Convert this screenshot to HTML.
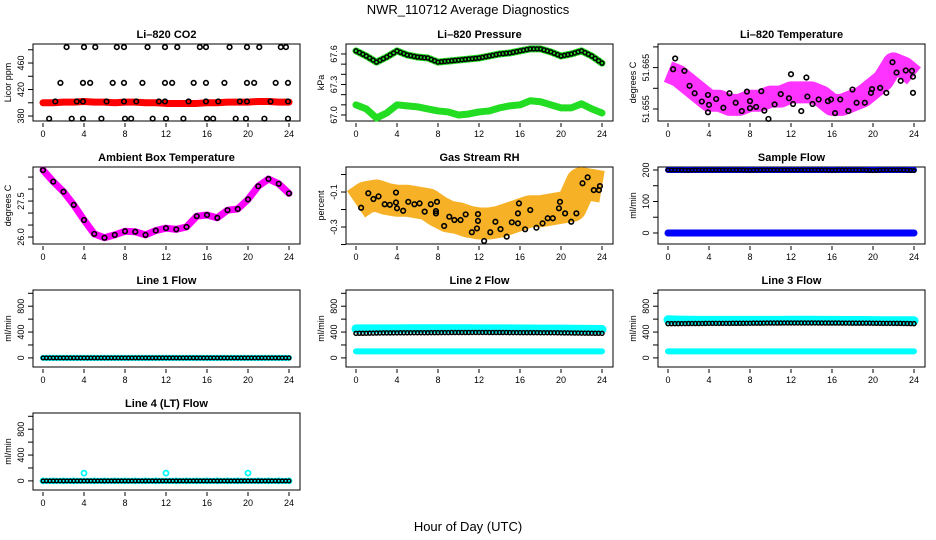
<!DOCTYPE html>
<html><head><meta charset="utf-8"><style>
body{margin:0;background:#fff}
svg{display:block;font-family:"Liberation Sans",sans-serif}
</style></head><body>
<svg id="c" width="936" height="540" viewBox="0 0 936 540" xmlns="http://www.w3.org/2000/svg">
<text x="468" y="14" text-anchor="middle" font-size="13">NWR_110712  Average Diagnostics</text>
<text x="468" y="531" text-anchor="middle" font-size="13">Hour of Day (UTC)</text>
</svg>
<script>
const hours=[0,1,2,3,4,5,6,7,8,9,10,11,12,13,14,15,16,17,18,19,20,21,22,23,24];
const xTicks=[0,4,8,12,16,20,24];
// CO2
const co2Red=[400,400,401,401,402,401,401,400,401,401,400,400,399,399,399,399,400,400,401,401,401,402,402,401,401];
const co2BlackHours=[2.3,4.0,5.1,7.2,7.9,10.2,11.9,13.1,15.3,15.9,18.2,19.9,21.1,23.2,23.7,1.7,3.9,4.6,6.8,7.9,9.7,11.9,12.6,14.7,15.9,17.7,19.9,20.6,22.7,23.9,1.2,3.3,3.9,6.2,7.9,9.1,11.3,11.9,14.2,15.9,17.1,19.2,19.9,22.2,23.9,0.6,2.8,3.9,5.7,8.0,8.6,10.7,12.0,13.7,16.0,16.6,18.8,19.8,21.6,23.9];
const co2BlackVals=[484,484,484,484,484,484,484,484,484,484,484,484,484,484,484,430,430,430,430,430,430,430,430,430,430,430,430,430,430,430,402,402,402,402,402,402,402,402,402,402,402,402,402,402,402,376,376,376,376,376,376,376,376,376,376,376,376,376,376,376];
// Pressure
const presUpper=[67.63,67.58,67.52,67.57,67.63,67.59,67.57,67.56,67.52,67.53,67.54,67.55,67.56,67.58,67.60,67.61,67.63,67.65,67.65,67.62,67.58,67.60,67.63,67.58,67.51];
const presLower=[67.10,67.06,66.97,67.02,67.10,67.09,67.08,67.06,67.04,67.03,67.00,67.01,67.03,67.04,67.07,67.09,67.10,67.14,67.13,67.10,67.07,67.07,67.11,67.06,67.02];
// Li-820 temperature
const tempCloud=[51.664,51.663,51.661,51.659,51.657,51.657,51.656,51.656,51.657,51.657,51.658,51.658,51.659,51.659,51.659,51.658,51.656,51.656,51.657,51.658,51.660,51.662,51.666,51.665,51.663];
const tempBlackHours=[0.7,0.5,1.6,2.1,2.6,3.3,3.9,4.0,3.9,4.7,5.4,6.0,6.6,7.2,7.7,8.0,8.0,8.6,9.1,9.4,9.8,10.4,11.0,11.8,12.0,12.2,13.0,13.5,13.6,14.1,14.7,15.6,15.9,16.3,16.8,17.6,18.0,18.4,19.2,19.9,19.8,20.7,21.3,21.9,22.3,22.7,23.2,23.8,23.9,23.9];
const tempBlackVals=[51.6672,51.6646,51.6642,51.6606,51.6588,51.6568,51.6584,51.6560,51.6542,51.6574,51.6553,51.6588,51.6565,51.6545,51.6592,51.6569,51.6552,51.6555,51.6593,51.6546,51.6526,51.6561,51.6586,51.6576,51.6634,51.6562,51.6545,51.6626,51.6580,51.6562,51.6573,51.6569,51.6573,51.6540,51.6573,51.6545,51.6597,51.6565,51.6565,51.6598,51.6589,51.6601,51.6589,51.6663,51.6638,51.6618,51.6643,51.6642,51.6628,51.6589];
// Ambient box temp
const ambVals=[28.79,28.31,27.89,27.34,26.71,26.13,25.97,26.09,26.24,26.22,26.09,26.27,26.37,26.32,26.42,26.87,26.92,26.80,27.12,27.17,27.57,28.12,28.42,28.22,27.82];
// Gas stream RH
const rhCloud=[-0.17,-0.13,-0.12,-0.14,-0.15,-0.15,-0.16,-0.17,-0.21,-0.24,-0.25,-0.27,-0.28,-0.28,-0.27,-0.25,-0.23,-0.21,-0.21,-0.20,-0.19,-0.18,-0.05,-0.06,-0.07];
const rhBlackHours=[0.5,1.2,1.7,2.2,2.8,3.3,3.9,3.9,4.0,4.6,5.1,5.7,6.2,6.7,7.3,7.8,7.9,7.8,8.6,9.1,9.6,10.2,10.7,11.3,11.8,11.9,11.9,12.5,13.1,13.6,14.1,14.7,15.2,15.8,15.8,15.9,16.5,17.0,17.6,18.2,18.7,19.2,19.8,19.9,20.4,21.0,21.5,22.1,22.6,23.2,23.7,23.8];
const rhBlackVals=[-0.19,-0.107,-0.14,-0.125,-0.17,-0.173,-0.103,-0.16,-0.193,-0.207,-0.156,-0.17,-0.165,-0.212,-0.17,-0.209,-0.156,-0.222,-0.294,-0.241,-0.26,-0.26,-0.228,-0.33,-0.308,-0.265,-0.226,-0.38,-0.33,-0.27,-0.312,-0.355,-0.273,-0.279,-0.222,-0.165,-0.313,-0.203,-0.304,-0.279,-0.25,-0.25,-0.193,-0.156,-0.222,-0.27,-0.222,-0.05,-0.016,-0.089,-0.089,-0.066];
// Flows
const sampleBlueHigh=[200,200,200,200,200,200,200,200,200,200,200,200,200,200,200,200,200,200,200,200,200,200,200,200,200];
const sampleBlueLow=[0,0,0,0,0,0,0,0,0,0,0,0,0,0,0,0,0,0,0,0,0,0,0,0,0];
const sampleBlack=[200,200,199,200,200,200,200,200,199,200,200,200,200,200,200,200,199,200,200,200,198,200,200,200,198];
const line1Cyan=[0,0,0,0,0,0,0,0,0,0,0,0,0,0,0,0,0,0,0,0,0,0,0,0,0];
const line1Black=[0,0,0,0,0,0,0,0,0,0,0,0,0,0,0,0,0,0,0,0,0,0,0,0,0];
const line2CyanHigh=[450,450,450,450,450,452,452,452,452,452,452,452,450,450,450,450,448,448,446,445,445,444,442,442,440];
const line2CyanLow=[100,100,100,100,100,100,100,100,100,100,100,100,100,100,100,100,100,100,100,100,100,100,100,100,100];
const line2Black=[380,382,385,387,388,389,390,390,391,392,393,393,394,393,393,392,391,391,390,390,388,386,384,382,380];
const line3CyanHigh=[590,585,582,580,580,580,580,580,580,580,580,580,582,582,582,580,580,578,578,578,576,575,575,575,575];
const line3CyanLow=[100,100,100,100,100,100,100,100,100,100,100,100,100,100,100,100,100,100,100,100,100,100,100,100,100];
const line3Black=[530,530,532,532,535,535,535,536,537,538,540,540,541,541,541,540,540,539,538,538,537,535,535,533,530];
const line4Cyan=[0,0,0,0,120,0,0,0,0,0,0,0,120,0,0,0,0,0,0,0,120,0,0,0,0];
const line4Black=[0,0,0,0,0,0,0,0,0,0,0,0,0,0,0,0,0,0,0,0,0,0,0,0,0];

const NS="http://www.w3.org/2000/svg";
const svg=document.getElementById('c');
function mk(tag,attrs,parent){const e=document.createElementNS(NS,tag);for(const k in attrs)e.setAttribute(k,attrs[k]);(parent||svg).appendChild(e);return e;}
const lefts=[33,346,658], tops=[44,167,290,413], W=267, H=77;

function panel(col,row,name,title,ylab,ylim,ticks,labels){
  const L=lefts[col],T=tops[row];
  const g=mk('g',{});
  
  
  const sx=h=>L+10+h*(246/24);
  const sy=v=>T+H-(v-ylim[0])/(ylim[1]-ylim[0])*H;
  const t=mk('text',{x:L+W/2,y:T-6,'text-anchor':'middle','font-size':11,'font-weight':'bold'},g);
  t.textContent=title;
  
  
  const box=mk('rect',{x:L,y:T,width:W,height:H,fill:'none',stroke:'#000','stroke-width':1},g);
  
  
  const xa=mk('g',{},g);
  
  
  xTicks.forEach(h=>{
    mk('line',{x1:sx(h),x2:sx(h),y1:T+H+2,y2:T+H+6,stroke:'#000'},xa);
    const tl=mk('text',{x:sx(h),y:T+H+16,'text-anchor':'middle','font-size':9},xa);
    tl.textContent=h;
  });
  const ya=mk('g',{},g);
  
  
  ticks.forEach((v,i)=>{
    mk('line',{x1:L-5,x2:L,y1:sy(v),y2:sy(v),stroke:'#000'},ya);
    if(labels[i]){const tl=mk('text',{x:0,y:0,'text-anchor':'middle','font-size':9,transform:`translate(${L-9},${sy(v)}) rotate(-90)`},ya);tl.textContent=labels[i];}
  });
  const yl=mk('text',{x:0,y:0,'text-anchor':'middle','font-size':9,transform:`translate(${L-22},${T+H/2}) rotate(-90)`},g);
  yl.textContent=ylab;
  
  
  const clip='clip'+col+row;
  const cp=mk('clipPath',{id:clip},g);mk('rect',{x:L,y:T-4,width:W,height:H+8},cp);
  const data=mk('g',{'clip-path':`url(#${clip})`},g);
  return {sx,sy,g:data,name};
}
function band(p,xs,vals,color,w,nm,op){
  const pl=mk('polyline',{points:xs.map((h,i)=>p.sx(h)+','+p.sy(vals[i])).join(' '),fill:'none',stroke:color,'stroke-width':w,'stroke-linejoin':'round','stroke-linecap':w>10?'butt':'round',opacity:op||1},p.g);
  
  
}
function pts(p,xs,vals,color,nm,r,sw){
  const gg=mk('g',{},p.g);
  
  
  xs.forEach((h,i)=>mk('circle',{cx:p.sx(h),cy:p.sy(vals[i]),r:r||2.3,fill:'none',stroke:color,'stroke-width':sw||1.6},gg));
}
function denseRow(p,vals,color,nm,r){
  const gg=mk('g',{},p.g);
  
  
  for(let i=0;i<vals.length-1;i++){
    for(let k=0;k<3;k++){
      const f=k/3;
      mk('circle',{cx:p.sx(hours[i]+f),cy:p.sy(vals[i]+(vals[i+1]-vals[i])*f),r:r||2.3,fill:'none',stroke:color,'stroke-width':1.5},gg);
    }
  }
  mk('circle',{cx:p.sx(hours[vals.length-1]),cy:p.sy(vals[vals.length-1]),r:r||2.3,fill:'none',stroke:color,'stroke-width':1.5},gg);
}

let p=panel(0,0,'co2','Li\u2013820 CO2','Licor ppm',[372.5,488.7],[380,400,420,440,460,480],['380','','420','','460','']);
band(p,hours,co2Red,'#ff0000',7,'co2-red-series');
pts(p,co2BlackHours,co2BlackVals,'#000','co2-black-series');

p=panel(1,0,'pressure','Li\u2013820 Pressure','kPa',[66.941,67.698],[67.0,67.1,67.2,67.3,67.4,67.5,67.6],['67.0','','','67.3','','','67.6']);
band(p,hours,presUpper,'#22dd22',7,'pressure-green-upper');
band(p,hours,presLower,'#22dd22',7,'pressure-green-lower');
denseRow(p,presUpper,'#000','pressure-black-series',2);

p=panel(2,0,'li820-temp','Li\u2013820 Temperature','degrees C',[51.6521,51.6707],[51.655,51.66,51.665,51.67],['51.655','','51.665','']);
band(p,hours,tempCloud,'#ff00ff',22,'temp-magenta-cloud',0.8);
pts(p,tempBlackHours,tempBlackVals,'#000','temp-black-series');

p=panel(0,1,'ambient','Ambient Box Temperature','degrees C',[25.71,28.92],[26,26.5,27,27.5,28,28.5],['26.0','','','27.5','','']);
band(p,hours,ambVals,'#ff00ff',7,'ambient-magenta-series');
pts(p,hours,ambVals,'#000','ambient-black-series');

p=panel(1,1,'rh','Gas Stream RH','percent',[-0.397,0.043],[-0.4,-0.3,-0.2,-0.1,0.0],['','-0.3','','-0.1','']);
band(p,hours,rhCloud,'#f5a300',32,'rh-orange-cloud',0.85);
pts(p,rhBlackHours,rhBlackVals,'#000','rh-black-series');

p=panel(2,1,'sample-flow','Sample Flow','ml/min',[-35,209.5],[0,50,100,150,200],['0','','100','','200']);
band(p,hours,sampleBlueHigh,'#0000ff',6,'sample-blue-high');
band(p,hours,sampleBlueLow,'#0000ff',7,'sample-blue-low');
denseRow(p,sampleBlack,'#000','sample-black-series',1.8);

const flowLim=[-141,1051],flowTicks=[0,200,400,600,800,1000],flowLabels=['0','','400','','800',''];
p=panel(0,2,'line1','Line 1 Flow','ml/min',flowLim,flowTicks,flowLabels);
band(p,hours,line1Cyan,'#00ffff',6,'line1-cyan-series');
denseRow(p,line1Black,'#000','line1-black-series',1.8);

p=panel(1,2,'line2','Line 2 Flow','ml/min',flowLim,flowTicks,flowLabels);
band(p,hours,line2CyanHigh,'#00ffff',9,'line2-cyan-high');
band(p,hours,line2CyanLow,'#00ffff',6,'line2-cyan-low');
denseRow(p,line2Black,'#000','line2-black-series',2);

p=panel(2,2,'line3','Line 3 Flow','ml/min',flowLim,flowTicks,flowLabels);
band(p,hours,line3CyanHigh,'#00ffff',9,'line3-cyan-high');
band(p,hours,line3CyanLow,'#00ffff',6,'line3-cyan-low');
denseRow(p,line3Black,'#000','line3-black-series',2);

p=panel(0,3,'line4','Line 4 (LT) Flow','ml/min',flowLim,flowTicks,flowLabels);
band(p,hours,line4Cyan.map(()=>0),'#00ffff',6,'line4-cyan-base');
pts(p,hours,line4Cyan,'#00ffff','line4-cyan-series',2.5,1.8);
denseRow(p,line4Black,'#000','line4-black-series',1.8);
</script>
</body></html>
